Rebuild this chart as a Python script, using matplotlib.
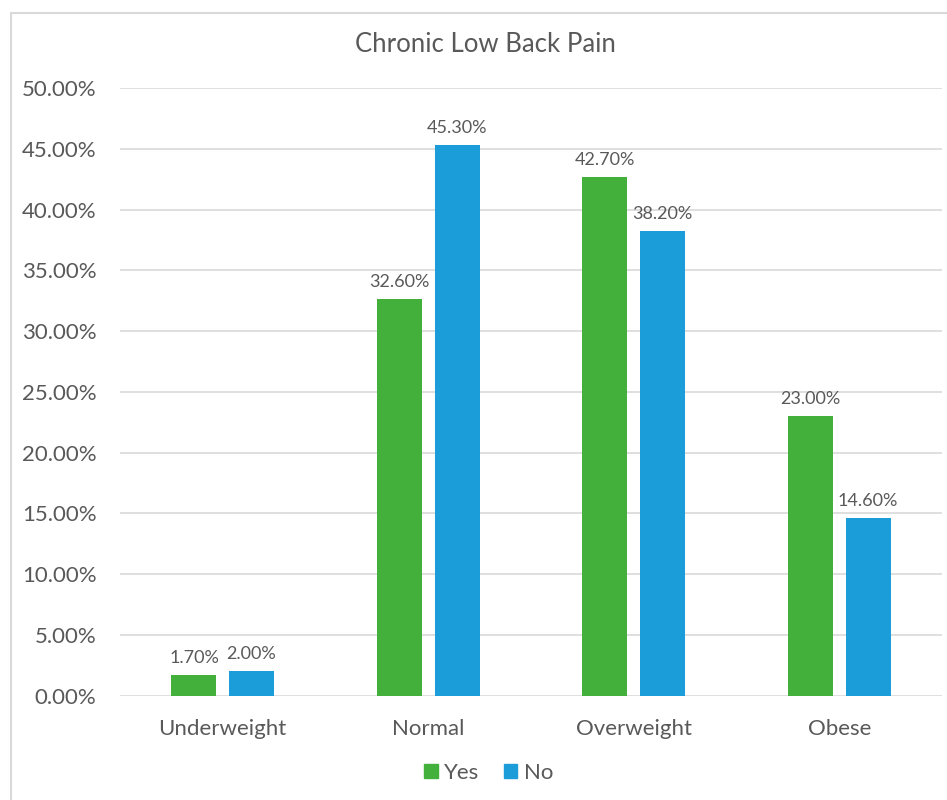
import matplotlib.pyplot as plt
from matplotlib.patches import Rectangle, Patch
import numpy as np

categories = ['Underweight', 'Normal', 'Overweight', 'Obese']
yes_vals = [1.70, 32.60, 42.70, 23.00]
no_vals = [2.00, 45.30, 38.20, 14.60]
yticks = [0, 5, 10, 15, 20, 25, 30, 35, 40, 45, 50]

green = '#43B03C'
blue = '#1A9DD8'
grey = '#595959'

plt.rcParams['font.family'] = ['Lato', 'DejaVu Sans']

fig = plt.figure(figsize=(9.47, 8), dpi=100)
ax = fig.add_axes([120/947, 104.3/800, 822/947, 607.7/800])

x = np.arange(len(categories))
w = 0.219
off = 0.14
b1 = ax.bar(x - off, yes_vals, w, color=green, label='Yes', zorder=3)
b2 = ax.bar(x + off, no_vals, w, color=blue, label='No', zorder=3)

for bars, vals in ((b1, yes_vals), (b2, no_vals)):
    for b, v in zip(bars, vals):
        ax.annotate('%.2f%%' % v, (b.get_x() + b.get_width()/2, v),
                    xytext=(0, 9), textcoords='offset pixels',
                    ha='center', va='bottom', fontsize=13, color=grey)

ax.set_xlim(-0.5, 3.5)
ax.set_ylim(0, 50)
ax.set_yticks(yticks)
ax.set_yticklabels(['%.2f%%' % t for t in yticks])
ax.set_xticks(x)
ax.set_xticklabels(categories)
ax.tick_params(axis='both', length=0, labelsize=16, labelcolor=grey)
ax.tick_params(axis='y', pad=17)
ax.tick_params(axis='x', pad=17)
ax.grid(axis='y', color='#D9D9D9', linewidth=1.2, zorder=0)
for s in ax.spines.values():
    s.set_visible(False)

fig.text(485/947, 1 - 45/800, 'Chronic Low Back Pain', ha='center', va='center',
         fontsize=18.5, color=grey)

fig.legend(handles=[Patch(color=green, label='Yes'), Patch(color=blue, label='No')],
           loc='center', bbox_to_anchor=(489/947, 1 - 773/800), ncol=2, frameon=False,
           fontsize=16, labelcolor=grey, handlelength=0.6, handleheight=0.6,
           handletextpad=0.3, columnspacing=1.1)

fig.patches.append(Rectangle((11/947, -0.1), 1.2, 1 - 13/800 + 0.1, transform=fig.transFigure,
                             fill=False, edgecolor='#D9D9D9', linewidth=1.5))

fig.savefig('out.png', dpi=100)
